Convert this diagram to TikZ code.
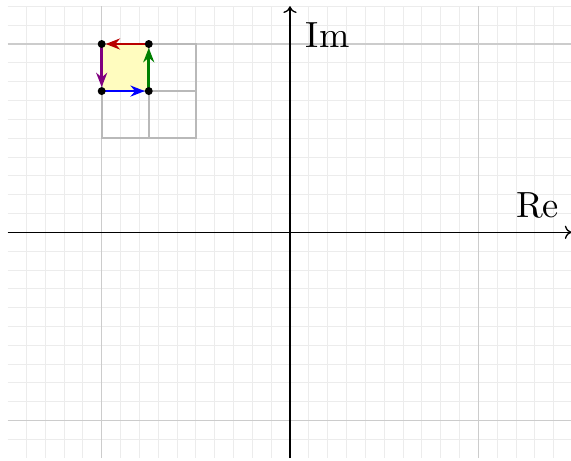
\documentclass[tikz,border=0pt]{standalone}
\usetikzlibrary{arrows.meta}
\definecolor{cred}{RGB}{185,0,0}
\definecolor{cgreen}{RGB}{0,128,0}
\definecolor{cblue}{RGB}{0,0,255}
\definecolor{cpurple}{RGB}{128,0,128}
\begin{document}
\begin{tikzpicture}[x=3cm,y=3cm,
  minorgrid/.style={draw=gray!15,line width=0.4pt},
  majorgrid/.style={draw=gray!40,line width=0.6pt},
  boxgrid/.style={draw=gray!55,line width=1pt},
  axis/.style={draw=black,line width=0.6pt,-{To[length=3pt,width=6pt]}},
  edge/.style={line width=1.25pt,-{Stealth[length=6.5pt,width=5pt]},shorten >=1.8pt},
  dot/.style={fill=black},
  lbl/.style={inner sep=0pt,anchor=base west}]
\useasboundingbox (-1.5401,-1.2146) rectangle (1.4925,1.2337);
\draw[minorgrid] (-1.5,-1.2) grid[step=0.1] (1.5,1.2);
\draw[majorgrid] (-1.5,-1.2) grid[step=1] (1.5,1.2);
\fill[yellow!25] (-1,0.75) rectangle (-0.75,1);
\draw[boxgrid] (-1,0.5) rectangle (-0.5,1);
\draw[boxgrid] (-0.75,0.5) -- (-0.75,1);
\draw[boxgrid] (-1,0.75) -- (-0.5,0.75);
\draw[axis] (-1.5,0) -- (1.495,0);
\draw[axis] (0,-1.2) -- (0,1.2);
\node[lbl] (im) at (0.082,0.984) {\scalebox{1.65}{Im}};
\node[lbl] (re) at (1.199,0.08) {\scalebox{1.65}{Re}};
\coordinate (A) at (-1,0.75);
\coordinate (B) at (-0.75,0.75);
\coordinate (C) at (-0.75,1);
\coordinate (D) at (-1,1);
\draw[edge,cblue] (A) -- (B);
\draw[edge,cgreen] (B) -- (C);
\draw[edge,cred] (C) -- (D);
\draw[edge,cpurple] (D) -- (A);
\foreach \p in {A,B,C,D} \fill[dot] (\p) circle (1.8pt);
\end{tikzpicture}
\end{document}
